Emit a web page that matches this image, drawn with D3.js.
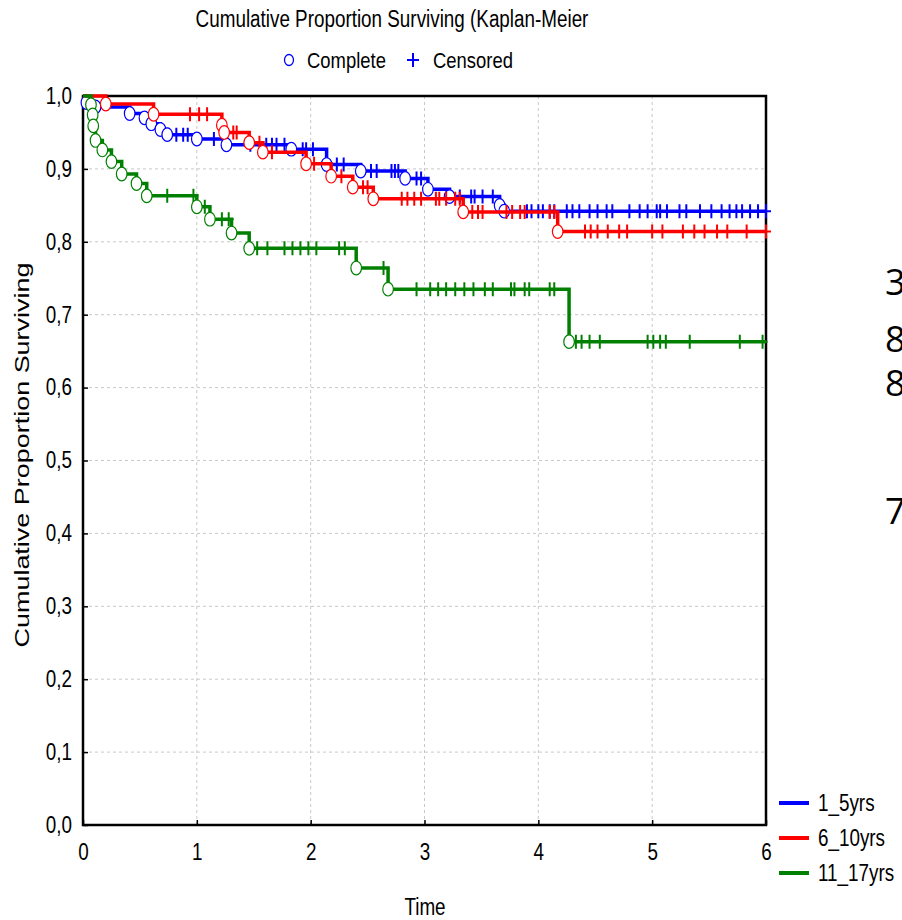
<!DOCTYPE html>
<html>
<head>
<meta charset="utf-8">
<script src="https://cdn.jsdelivr.net/npm/d3@7"></script>
<style>
  body { margin: 0; background: #fff; }
  text { font-family: "Liberation Sans", Arial, sans-serif; fill: #000; }
</style>
</head>
<body>
<div id="chart"></div>
<script>
// Kaplan-Meier survival curves, three age groups

const FRAME_WIDTH = 902;
const FRAME_HEIGHT = 920;
const MARGINS = {left: 83, right: 136, top: 96, bottom: 95};
const VIS_WIDTH = FRAME_WIDTH - MARGINS.left - MARGINS.right;
const VIS_HEIGHT = FRAME_HEIGHT - MARGINS.top - MARGINS.bottom;
const SQUEEZE = 0.82; // the reference text is horizontally condensed

// axis ticks
const timeTicks = [0, 1, 2, 3, 4, 5, 6];
const survTicks = [0, 0.1, 0.2, 0.3, 0.4, 0.5, 0.6, 0.7, 0.8, 0.9, 1.0];

// group names
const groups = ["1_5yrs", "6_10yrs", "11_17yrs"];
const groupColors = ["#0000ff", "#ff0000", "#008000"];

// 1_5yrs : complete (event) times, survival after event, censored times
const blueTimes = [0.03, 0.11, 0.41, 0.54, 0.60, 0.68, 0.74, 1.00, 1.26, 1.83, 2.14, 2.44, 2.83, 3.03, 3.22, 3.66, 3.70];
const blueSurv = [0.991, 0.985, 0.976, 0.970, 0.962, 0.954, 0.947, 0.941, 0.933, 0.927, 0.906, 0.897, 0.887, 0.872, 0.862, 0.850, 0.842];
const blueCens = [0.82, 0.88, 0.92, 1.15, 1.47, 1.61, 1.66, 1.70, 1.77, 1.93, 1.96, 2.02, 2.23, 2.29, 2.53, 2.58, 2.71,
                  2.74, 2.77, 2.93, 2.97, 3.31, 3.41, 3.44, 3.51, 3.60, 3.90, 3.94, 4.00, 4.04, 4.10, 4.14, 4.25, 4.30,
                  4.36, 4.45, 4.52, 4.60, 4.65, 4.80, 4.89, 4.96, 5.04, 5.07, 5.13, 5.24, 5.30, 5.42, 5.52, 5.61, 5.68,
                  5.74, 5.79, 5.86, 5.93, 6.00];

// 6_10yrs
const redTimes = [0.20, 0.62, 1.22, 1.24, 1.46, 1.58, 1.96, 2.18, 2.37, 2.55, 3.34, 4.17];
const redSurv = [0.989, 0.975, 0.960, 0.950, 0.936, 0.923, 0.907, 0.890, 0.875, 0.859, 0.841, 0.814];
const redCens = [0.94, 1.02, 1.09, 1.32, 1.35, 1.55, 1.66, 2.03, 2.27, 2.46, 2.50, 2.80, 2.85, 2.91, 2.97, 3.10, 3.13,
                 3.19, 3.27, 3.31, 3.42, 3.47, 3.51, 3.72, 3.77, 3.84, 3.88, 4.10, 4.14, 4.41, 4.46, 4.52, 4.61, 4.71,
                 4.78, 5.00, 5.09, 5.27, 5.37, 5.46, 5.57, 5.66, 5.83, 6.00];

// 11_17yrs
const greenTimes = [0.07, 0.085, 0.09, 0.11, 0.17, 0.25, 0.34, 0.47, 0.56, 1.00, 1.115, 1.305, 1.46, 2.40, 2.68, 4.27];
const greenSurv = [0.988, 0.974, 0.959, 0.939, 0.926, 0.910, 0.893, 0.880, 0.863, 0.848, 0.831, 0.812, 0.791, 0.764, 0.735, 0.663];
const greenCens = [0.74, 0.97, 1.07, 1.22, 1.28, 1.53, 1.62, 1.77, 1.84, 1.91, 1.98, 2.05, 2.25, 2.30, 2.64, 2.93, 3.05,
                   3.12, 3.19, 3.27, 3.35, 3.43, 3.53, 3.60, 3.76, 3.79, 3.88, 3.92, 4.10, 4.14, 4.33, 4.38, 4.45, 4.54,
                   4.96, 5.01, 5.07, 5.12, 5.33, 5.77, 5.97];

// cut-off text at the right edge of the slide
const sideLabels = ["3", "8", "8", "7"];
const sideLabelY = [295, 352, 396, 524];

const series = [
  {name: groups[0], color: groupColors[0], times: blueTimes, surv: blueSurv, cens: blueCens},
  {name: groups[1], color: groupColors[1], times: redTimes, surv: redSurv, cens: redCens},
  {name: groups[2], color: groupColors[2], times: greenTimes, surv: greenSurv, cens: greenCens}
];

const FRAME = d3.select("#chart")
  .append("svg")
    .attr("width", FRAME_WIDTH)
    .attr("height", FRAME_HEIGHT);

const xScale = d3.scaleLinear().domain([0, 6]).range([0, VIS_WIDTH]);
const yScale = d3.scaleLinear().domain([0, 1]).range([VIS_HEIGHT, 0]);

// condensed text placed at x, y
function narrowText(parent, x, y, str, size) {
  return parent.append("text")
    .attr("transform", "translate(" + x + "," + y + ") scale(" + SQUEEZE + ",1)")
    .attr("font-size", size)
    .text(str);
}

const PLOT = FRAME.append("g")
  .attr("transform", "translate(" + MARGINS.left + "," + MARGINS.top + ")");

// grid
PLOT.selectAll(".vgrid")
  .data(timeTicks.slice(1, -1))
  .enter().append("line")
    .attr("x1", d => xScale(d)).attr("x2", d => xScale(d))
    .attr("y1", 0).attr("y2", VIS_HEIGHT)
    .attr("stroke", "#c8c8c8").attr("stroke-dasharray", "3,3");

PLOT.selectAll(".hgrid")
  .data(survTicks.slice(1, -1))
  .enter().append("line")
    .attr("x1", 0).attr("x2", VIS_WIDTH)
    .attr("y1", d => yScale(d)).attr("y2", d => yScale(d))
    .attr("stroke", "#c8c8c8").attr("stroke-dasharray", "3,3");

// axes
const xAxis = PLOT.append("g")
  .attr("transform", "translate(0," + VIS_HEIGHT + ")")
  .call(d3.axisBottom(xScale).tickValues(timeTicks).tickSize(-5).tickPadding(19).tickFormat(d3.format("d")));
xAxis.select(".domain").remove();
xAxis.selectAll("text")
  .attr("font-size", "23px")
  .attr("transform", "scale(" + SQUEEZE + ",1)")
  .style("font-family", "'Liberation Sans', Arial, sans-serif");
xAxis.selectAll("line").attr("stroke-width", 1.5);

const yAxis = PLOT.append("g")
  .call(d3.axisLeft(yScale).tickValues(survTicks).tickSize(-5).tickPadding(13.5)
    .tickFormat(d => d3.format(".1f")(d).replace(".", ",")));
yAxis.select(".domain").remove();
yAxis.selectAll("text")
  .attr("font-size", "23px")
  .attr("transform", "scale(" + SQUEEZE + ",1)")
  .style("font-family", "'Liberation Sans', Arial, sans-serif");
yAxis.selectAll("line").attr("stroke-width", 1.5);

// frame
PLOT.append("rect")
  .attr("x", 0).attr("y", 0)
  .attr("width", VIS_WIDTH).attr("height", VIS_HEIGHT)
  .attr("fill", "none").attr("stroke", "#000").attr("stroke-width", 2.5);

// curves
const line = d3.line()
  .x(d => xScale(d[0]))
  .y(d => yScale(d[1]))
  .curve(d3.curveStepAfter);

function levelAt(s, t) {
  let v = 1;
  s.times.forEach((tt, i) => { if (tt <= t) v = s.surv[i]; });
  return v;
}

series.forEach(s => {
  const pts = [[0, 1]].concat(s.times.map((t, i) => [t, s.surv[i]]));
  pts.push([6, s.surv[s.surv.length - 1]]);

  const G = PLOT.append("g");

  G.append("path")
    .datum(pts)
    .attr("d", line)
    .attr("fill", "none")
    .attr("stroke", s.color)
    .attr("stroke-width", 3.5);

  // censored marks
  G.selectAll(".cens")
    .data(s.cens)
    .enter().append("path")
      .attr("transform", d => "translate(" + xScale(d) + "," + yScale(levelAt(s, d)) + ")")
      .attr("d", "M-5,0H5M0,-7V7")
      .attr("stroke", s.color)
      .attr("stroke-width", 2);

  // complete marks
  G.selectAll(".comp")
    .data(s.times)
    .enter().append("ellipse")
      .attr("cx", d => xScale(d))
      .attr("cy", (d, i) => yScale(s.surv[i]))
      .attr("rx", 5.3).attr("ry", 6.8)
      .attr("fill", "#fff")
      .attr("stroke", s.color)
      .attr("stroke-width", 1.2);
});

// titles
narrowText(FRAME, 392, 27, "Cumulative Proportion Surviving (Kaplan-Meier", "23px")
  .attr("text-anchor", "middle");

const TOPLEG = FRAME.append("g");
TOPLEG.append("ellipse")
  .attr("cx", 289).attr("cy", 60).attr("rx", 4.5).attr("ry", 5.5)
  .attr("fill", "none").attr("stroke", "#0000ff").attr("stroke-width", 1.3);
narrowText(TOPLEG, 307, 68, "Complete", "22.5px");
TOPLEG.append("path").attr("d", "M407,60H419M413,53V67").attr("stroke", "#0000ff").attr("stroke-width", 2);
narrowText(TOPLEG, 433, 68, "Censored", "22.5px");

// axis titles
narrowText(FRAME, 425, 915, "Time", "23px")
  .attr("text-anchor", "middle");

FRAME.append("text")
  .attr("transform", "translate(29,455) rotate(-90)")
  .attr("text-anchor", "middle")
  .attr("font-size", "20px")
  .attr("textLength", 385)
  .attr("lengthAdjust", "spacingAndGlyphs")
  .text("Cumulative Proportion Surviving");

// group legend
const LEG = FRAME.selectAll(".leg")
  .data(groups)
  .enter().append("g")
    .attr("transform", (d, i) => "translate(779," + (803 + i * 35) + ")");
LEG.append("line")
  .attr("x1", 0).attr("x2", 30)
  .attr("stroke", (d, i) => groupColors[i])
  .attr("stroke-width", 4);
LEG.append("text")
  .attr("transform", "translate(39,8) scale(" + SQUEEZE + ",1)")
  .attr("font-size", "23px")
  .text(d => d);

// side text
FRAME.selectAll(".side")
  .data(sideLabels)
  .enter().append("text")
    .attr("x", 885)
    .attr("y", (d, i) => sideLabelY[i])
    .attr("font-size", "36px")
    .style("font-family", "'Open Sans', 'Noto Sans', sans-serif")
    .text(d => d);
</script>
</body>
</html>
